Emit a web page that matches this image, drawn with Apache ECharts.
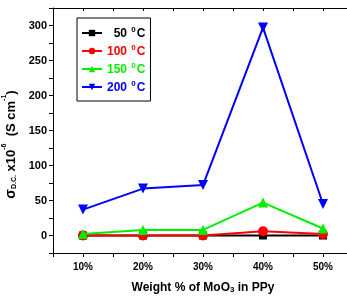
<!DOCTYPE html>
<html><head><meta charset="utf-8">
<script src="https://cdn.jsdelivr.net/npm/echarts@6/dist/echarts.min.js"></script>
<style>html,body{margin:0;padding:0;background:#fff}#c{width:347px;height:297px}</style>
</head><body><div id="c"></div>
<script>
const categories = ['10%', '20%', '30%', '40%', '50%'];
const s50 = [0, 0, 0, 0, 0];
const s100 = [0, 0, 0, 6, 2];
const s150 = [2, 8, 8, 47, 10];
const s200 = [37, 67, 72, 297, 45];
const seriesNames = ['50', '100', '150', '200'];
const seriesColors = ['#000000', '#ff0000', '#00ee00', '#0000ff'];
const yTicks = [0, 50, 100, 150, 200, 250, 300];

const xVals = categories.map(c => parseFloat(c));
const F = 'Liberation Sans, Arial, sans-serif';
function pts(arr) { return arr.map((v, i) => [xVals[i], v]); }
const symbols = ['rect', 'circle', 'triangle', 'triangle'];
const rotates = [0, 0, 0, 180];
const allData = [s50, s100, s150, s200];

function richFor(color) {
  return {
    n: { color: color, fontWeight: 'bold', fontSize: 12, fontFamily: F, lineHeight: 14, verticalAlign: 'bottom' },
    s: { color: color, fontWeight: 'bold', fontSize: 8, fontFamily: F, lineHeight: 8, verticalAlign: 'top', padding: [0, 1, 0, 1] }
  };
}

const chart = echarts.init(document.getElementById('c'));
chart.setOption({
  animation: false,
  backgroundColor: '#fff',
  grid: { left: 53, top: 8, width: 300, height: 245, containLabel: false, outerBoundsMode: 'none' },
  legend: {
    orient: 'vertical', left: 77, top: 18,
    padding: [8, 5, 7, 4],
    borderColor: '#000', borderWidth: 1,
    itemWidth: 20, itemHeight: 8, itemGap: 4,
    data: seriesNames.map((n, i) => ({
      name: n,
      textStyle: { color: seriesColors[i], rich: richFor(seriesColors[i]) }
    })),
    formatter: n => (n === '50' ? '{n|  ' : '{n|') + n + ' }{s|0}{n|C}',
    textStyle: { fontFamily: F, fontWeight: 'bold', fontSize: 12 }
  },
  xAxis: [{
    type: 'value', min: 5, max: 55, interval: 5,
    name: '{t|Weight % of MoO}{sub|3}{t| in PPy}',
    nameLocation: 'middle', nameGap: 27,
    nameTextStyle: {
      rich: {
        t: { fontFamily: F, fontWeight: 'bold', fontSize: 12, color: '#000', lineHeight: 14, verticalAlign: 'bottom' },
        sub: { fontFamily: F, fontWeight: 'bold', fontSize: 8, color: '#000', lineHeight: 6, verticalAlign: 'bottom' }
      }
    },
    axisLine: { show: true, onZero: false, lineStyle: { color: '#000', width: 1 } },
    axisTick: { show: true, length: 4, lineStyle: { color: '#000' } },
    axisLabel: {
      fontFamily: F, fontWeight: 'bold', fontSize: 10, color: '#000', margin: 9,
      formatter: v => { const i = xVals.indexOf(v); return i >= 0 ? categories[i] : ''; }
    },
    splitLine: { show: false }
  }, {
    type: 'value', min: 5, max: 55, interval: 5, position: 'top',
    axisLine: { show: true, onZero: false, lineStyle: { color: '#000', width: 1 } },
    axisTick: { show: true, inside: true, length: 3, lineStyle: { color: '#000' } },
    axisLabel: { show: false },
    splitLine: { show: false }
  }],
  yAxis: {
    type: 'value', min: -25, max: 325, interval: 25,
    name: '{g|σ}{sub|D.C.}{t| x10}{sup|-6}{t|  (S cm}{sup|-1}{t|)}',
    nameLocation: 'middle', nameGap: 31, nameRotate: 90,
    nameTextStyle: {
      padding: [0, 28, 0, 0],
      rich: {
        g: { fontFamily: F, fontWeight: 'bold', fontSize: 14, color: '#000', lineHeight: 17, verticalAlign: 'bottom' },
        t: { fontFamily: F, fontWeight: 'bold', fontSize: 13, color: '#000', lineHeight: 17, verticalAlign: 'bottom' },
        sup: { fontFamily: F, fontWeight: 'bold', fontSize: 7, color: '#000', lineHeight: 8, verticalAlign: 'top' },
        sub: { fontFamily: F, fontWeight: 'bold', fontSize: 7, color: '#000', lineHeight: 4, verticalAlign: 'bottom' }
      }
    },
    axisLine: { show: true, onZero: false, lineStyle: { color: '#000', width: 1 } },
    axisTick: { show: true, length: 4, lineStyle: { color: '#000' } },
    axisLabel: {
      fontFamily: F, fontWeight: 'bold', fontSize: 11, color: '#000', margin: 6,
      formatter: v => yTicks.indexOf(v) >= 0 ? String(v) : ''
    },
    splitLine: { show: false }
  },
  series: seriesNames.map((n, i) => ({
    name: n, type: 'line', data: pts(allData[i]),
    symbol: symbols[i], symbolRotate: rotates[i], symbolSize: i === 0 ? 8 : 10,
    color: seriesColors[i],
    lineStyle: { width: 2, color: seriesColors[i] },
    itemStyle: { color: seriesColors[i] },
    z: 2 + i
  }))
});
</script></body></html>
